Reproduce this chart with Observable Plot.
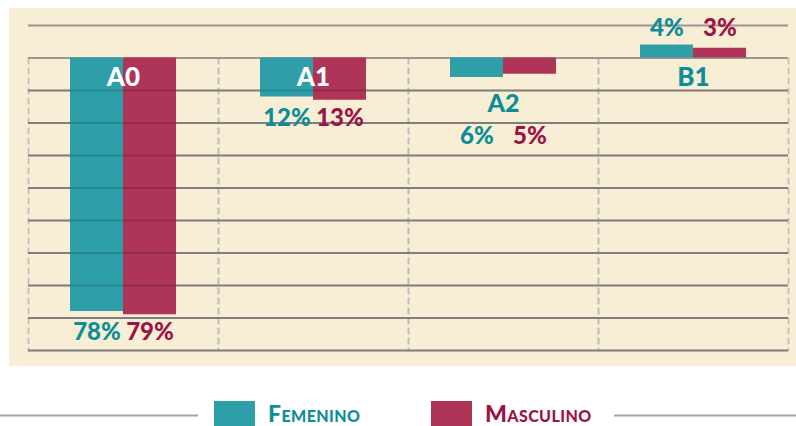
<!DOCTYPE html>
<html><head><meta charset="utf-8">
<script src="https://cdn.jsdelivr.net/npm/d3@7"></script>
<script src="https://cdn.jsdelivr.net/npm/@observablehq/plot@0.6"></script>
<style>
html,body{margin:0;padding:0;background:#fff}
body{width:796px;height:426px;position:relative;overflow:hidden;font-family:Lato,sans-serif}
#panel{position:absolute;left:9px;top:8px;width:787px;height:358px;background:#F8EDD5}
#chart{position:absolute;left:0;top:0;width:796px;height:370px}
#legend{position:absolute;left:0;top:370px}
</style></head><body>
<div id="panel"></div>
<div id="chart"></div>
<svg id="legend" width="796" height="56"></svg>
<script>
// ---- data ----
const levels = ["A0", "A1", "A2", "B1"];
const sexes = ["Femenino", "Masculino"];
const femenino = [78, 12, 6, 4];
const masculino = [79, 13, 5, 3];
const upwardLevels = ["B1"];               // levels drawn above the baseline
const gridTicks = [-10, 0, 10, 20, 30, 40, 50, 60, 70, 80, 90];

// ---- styles ----
const barColor = {Femenino: "#2E9FA8", Masculino: "#AE3458"};
const textColor = {Femenino: "#0C8E98", Masculino: "#9C1444"};

const rows = [];
levels.forEach((lv, i) => {
  rows.push({level: lv, sex: sexes[0], value: femenino[i]});
  rows.push({level: lv, sex: sexes[1], value: masculino[i]});
});
const isUp = lv => upwardLevels.includes(lv);
rows.forEach(r => r.signed = isUp(r.level) ? -r.value : r.value);
const catMax = lv => d3.max(rows.filter(r => r.level === lv), r => r.value);

// level label placement: inside bars if long enough, else below bars / below baseline
const levelRows = levels.map(lv => {
  const m = catMax(lv);
  let y, inside = false, below = false;
  if (isUp(lv)) y = 6;
  else if (m >= 10) { y = 6; inside = true; }
  else { y = m + 8.2; below = true; }
  return {level: lv, y, inside, below};
});
const valueY = r => {
  const m = catMax(r.level);
  if (isUp(r.level)) return -(m + 5);
  const lr = levelRows.find(d => d.level === r.level);
  return m + (lr.below ? 18 : 5.5);
};

const plot = Plot.plot({
  width: 796, height: 370,
  marginLeft: 27, marginRight: 8, marginTop: 58, marginBottom: 20,
  style: {background: "transparent", fontFamily: "Lato, sans-serif", overflow: "visible"},
  fx: {domain: levels, padding: 0, axis: null},
  x: {domain: sexes, paddingInner: 0, paddingOuter: 0.79, axis: null},
  y: {domain: [-10, 90], range: [25, 350], axis: null},
  marks: [
    Plot.frame({anchor: "left", stroke: "#BDBDBD", strokeWidth: 1.6, strokeDasharray: "5,5"}),
    Plot.frame({anchor: "right", stroke: "#BDBDBD", strokeWidth: 1.6, strokeDasharray: "5,5"}),
    Plot.ruleY(gridTicks, {stroke: "#9A9894", strokeWidth: 2}),
    Plot.barY(rows, {fx: "level", x: "sex", y1: 0, y2: "signed", fill: d => barColor[d.sex]}),
    Plot.ruleY(gridTicks.filter(t => t > 0), {stroke: "#000", strokeOpacity: 0.16, strokeWidth: 2}),
    Plot.text(levelRows, {
      fx: "level", y: "y", text: "level",
      fill: d => d.inside ? "#FFFFFF" : "#0C8E98",
      fontSize: d => d.below ? 25 : 26, fontWeight: 900
    }),
    Plot.text(rows, {
      fx: "level", x: "sex", y: valueY, text: d => d.value + "%",
      fill: d => textColor[d.sex], fontSize: 24, fontWeight: 900
    })
  ]
});
document.getElementById("chart").appendChild(plot);

// ---- legend ----
const lg = d3.select("#legend");
lg.append("line").attr("x1", 0).attr("x2", 198).attr("y1", 45.5).attr("y2", 45.5)
  .attr("stroke", "#A5A5A5").attr("stroke-width", 2);
lg.append("line").attr("x1", 614).attr("x2", 796).attr("y1", 45.5).attr("y2", 45.5)
  .attr("stroke", "#A5A5A5").attr("stroke-width", 2);
const legendPos = [{sw: 214, tx: 268}, {sw: 431, tx: 485}];
sexes.forEach((s, i) => {
  lg.append("rect").attr("x", legendPos[i].sw).attr("y", 31).attr("width", 41).attr("height", 30)
    .attr("fill", barColor[s]);
  lg.append("text").attr("x", legendPos[i].tx).attr("y", 52)
    .attr("fill", textColor[s]).attr("font-family", "Lato, sans-serif")
    .attr("font-weight", 900).attr("font-size", 23)
    .style("font-variant", "small-caps").style("letter-spacing", "0.4px")
    .text(s);
});
</script>
</body></html>
